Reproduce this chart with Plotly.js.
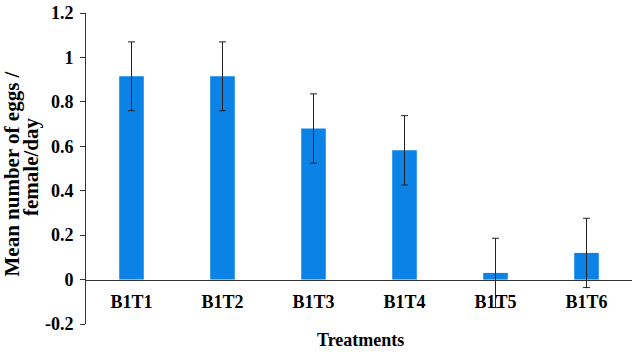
<!DOCTYPE html>
<html>
<head>
<meta charset="utf-8">
<script src="https://cdn.plot.ly/plotly-3.0.1.min.js"></script>
<style>html,body{margin:0;padding:0;background:#fff;}#chart{width:636px;height:355px;}</style>
</head>
<body>
<div id="chart"></div>
<script>
const categories = ["B1T1", "B1T2", "B1T3", "B1T4", "B1T5", "B1T6"];
const meanEggs = [0.915, 0.915, 0.68, 0.582, 0.03, 0.12];
const errorSE = [0.155, 0.155, 0.156, 0.156, 0.156, 0.156];
const yTickVals = [-0.2, 0, 0.2, 0.4, 0.6, 0.8, 1, 1.2];
const yTickText = ["-0.2", "0", "0.2", "0.4", "0.6", "0.8", "1", "1.2"];

const FONT = "Liberation Serif";
const trace = {
  type: "bar",
  x: categories,
  y: meanEggs,
  width: 0.27,
  marker: {color: "#0A82E6", line: {width: 0}},
  error_y: {type: "data", array: errorSE, visible: true, color: "#222", thickness: 1, width: 3.5},
  hoverinfo: "none"
};
const layout = {
  width: 636, height: 355,
  margin: {l: 86, r: 4, t: 13, b: 31},
  paper_bgcolor: "#fff", plot_bgcolor: "#fff",
  showlegend: false,
  font: {family: FONT, color: "#000"},
  xaxis: {
    anchor: "free", position: 0.2 / 1.4,
    showline: true, linecolor: "#333", linewidth: 1,
    showgrid: false, zeroline: false, ticks: "",
    ticklabelstandoff: 6,
    tickfont: {family: FONT, size: 18, weight: "bold", color: "#000"}
  },
  yaxis: {
    range: [-0.2, 1.2],
    tickvals: yTickVals, ticktext: yTickText,
    showline: true, linecolor: "#333", linewidth: 1,
    ticks: "outside", ticklen: 5, tickcolor: "#333",
    ticklabelstandoff: 3,
    showgrid: false, zeroline: false,
    tickfont: {family: FONT, size: 18, weight: "bold", color: "#000"}
  },
  annotations: [
    {text: "Mean number of eggs /", textangle: -90, showarrow: false,
     xref: "paper", yref: "paper", x: (11 - 86) / 546, y: (324 - 173.5) / 311,
     xanchor: "center", yanchor: "middle",
     font: {family: FONT, size: 21, weight: "bold", color: "#000"}},
    {text: "female/day", textangle: -90, showarrow: false,
     xref: "paper", yref: "paper", x: (31 - 86) / 546, y: (324 - 167) / 311,
     xanchor: "center", yanchor: "middle",
     font: {family: FONT, size: 21, weight: "bold", color: "#000"}},
    {text: "Treatments", showarrow: false,
     xref: "paper", yref: "paper", x: (360 - 86) / 546, y: (324 - 340) / 311,
     xanchor: "center", yanchor: "middle",
     font: {family: FONT, size: 18, weight: "bold", color: "#000"}}
  ]
};
Plotly.newPlot("chart", [trace], layout, {displayModeBar: false, staticPlot: true});
</script>
</body>
</html>
